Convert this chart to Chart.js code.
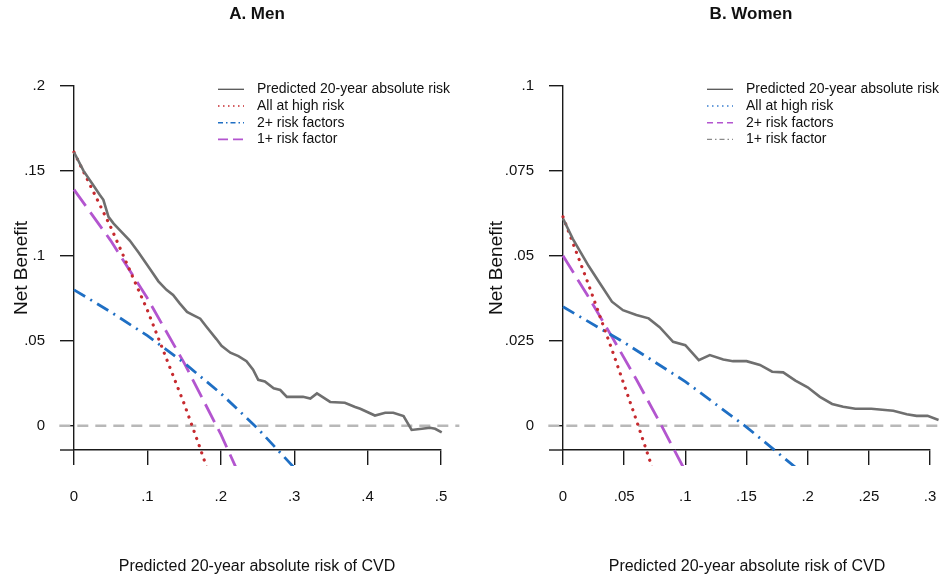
<!DOCTYPE html>
<html>
<head>
<meta charset="utf-8">
<script src="https://cdn.jsdelivr.net/npm/chart.js@4.4.1/dist/chart.umd.min.js"></script>
<style>
  html, body { margin: 0; padding: 0; background: #fff; }
  #wrap { position: relative; width: 939px; height: 579px; }
  .panel { position: absolute; top: 0; height: 579px; }
</style>
</head>
<body>
<div id="wrap">
  <div class="panel" style="left:0;width:470px"><canvas id="men" width="470" height="579"></canvas></div>
  <div class="panel" style="left:470px;width:469px"><canvas id="women" width="469" height="579"></canvas></div>
</div>
<script>
// Values
const seriesNames = ["Predicted 20-year absolute risk", "All at high risk", "2+ risk factors", "1+ risk factor"];
const xTitle = "Predicted 20-year absolute risk of CVD";
const yTitle = "Net Benefit";

// A. Men
const menPredX = [0, 0.013, 0.024, 0.035, 0.040, 0.047, 0.054, 0.065, 0.076, 0.088,
  0.104, 0.115, 0.126, 0.135, 0.144, 0.154, 0.163, 0.172, 0.181, 0.194,
  0.201, 0.213, 0.224, 0.235, 0.244, 0.251, 0.260, 0.272, 0.281, 0.290,
  0.312, 0.322, 0.331, 0.349, 0.369, 0.383, 0.390, 0.410, 0.424, 0.435,
  0.449, 0.460, 0.474, 0.485, 0.492, 0.501, 0.510, 0.519];
const menPredY = [0.161, 0.150, 0.143, 0.136, 0.133, 0.123, 0.119, 0.114, 0.109, 0.102,
  0.092, 0.085, 0.080, 0.077, 0.072, 0.067, 0.065, 0.063, 0.058, 0.051,
  0.047, 0.043, 0.041, 0.038, 0.033, 0.027, 0.026, 0.022, 0.021, 0.017,
  0.017, 0.016, 0.019, 0.014, 0.0135, 0.011, 0.010, 0.006, 0.0076, 0.0076,
  0.0057, -0.0025, -0.0018, -0.0012, -0.0018, -0.0039, -0.0009, -0.0006];
const menAllX = [0, 0.05, 0.10, 0.15, 0.17, 0.19];
const menAllY = [0.161, 0.117, 0.068, 0.013, -0.011, -0.036];
const menTwoX = [0, 0.05, 0.10, 0.15, 0.20, 0.25, 0.30, 0.31];
const menTwoY = [0.080, 0.067, 0.053, 0.037, 0.019, -0.0015, -0.0247, -0.030];
const menOneX = [0, 0.05, 0.10, 0.15, 0.20, 0.23];
const menOneY = [0.139, 0.109, 0.075, 0.037, -0.005, -0.0335];
const menZeroX = [-0.02, 0.525];
const menXTicks = [0, 0.1, 0.2, 0.3, 0.4, 0.5];
const menXTickLabels = ["0", ".1", ".2", ".3", ".4", ".5"];
const menYTicks = [0, 0.05, 0.1, 0.15, 0.2];
const menYTickLabels = ["0", ".05", ".1", ".15", ".2"];

// B. Women
const womenPredX = [0, 0.008, 0.021, 0.030, 0.040, 0.049, 0.060, 0.070, 0.079, 0.090,
  0.100, 0.111, 0.120, 0.131, 0.139, 0.150, 0.161, 0.171, 0.180, 0.190,
  0.200, 0.210, 0.220, 0.229, 0.239, 0.252, 0.270, 0.281, 0.289, 0.298, 0.307];
const womenPredY = [0.061, 0.055, 0.047, 0.042, 0.0365, 0.034, 0.0326, 0.0316, 0.029, 0.0247,
  0.0237, 0.0193, 0.0208, 0.0195, 0.019, 0.019, 0.0179, 0.0159, 0.0157, 0.0133,
  0.0113, 0.0085, 0.0064, 0.0056, 0.005, 0.005, 0.0044, 0.0034, 0.0029, 0.0029, 0.0017];
const womenAllX = [0, 0.02, 0.04, 0.06, 0.075];
const womenAllY = [0.0615, 0.0424, 0.0224, 0.0016, -0.0146];
const womenTwoX = [0, 0.05, 0.10, 0.15, 0.20];
const womenTwoY = [0.035, 0.0245, 0.013, -0.0004, -0.0152];
const womenOneX = [0, 0.02, 0.04, 0.06, 0.08, 0.10, 0.105];
const womenOneY = [0.050, 0.0384, 0.0262, 0.0136, 0.0004, -0.0134, -0.0169];
const womenZeroX = [-0.012, 0.32];
const womenXTicks = [0, 0.05, 0.1, 0.15, 0.2, 0.25, 0.3];
const womenXTickLabels = ["0", ".05", ".1", ".15", ".2", ".25", ".3"];
const womenYTicks = [0, 0.025, 0.05, 0.075, 0.1];
const womenYTickLabels = ["0", ".025", ".05", ".075", ".1"];

// Styles
const GRAY = "#6f6f6f", RED = "#c62a2f", BLUE = "#1f6fc4", PURPLE = "#b355cf", ZERO = "#b8b8b8", AXIS = "#1a1a1a";
const FONT = "'Liberation Sans', Arial, sans-serif";
Chart.defaults.font.family = FONT;

function pts(xs, ys) {
    return xs.map((x, i) => ({ x: x, y: ys[i] }));
}

const lineClip = { left: 16, top: 4, right: 20, bottom: 16 };

function buildDatasets(p) {
    return [
        { label: seriesNames[0], data: pts(p.predX, p.predY), borderColor: GRAY, borderWidth: 2.6 },
        { label: seriesNames[1], data: pts(p.allX, p.allY), borderColor: RED, borderWidth: 3.2, borderDash: [0.1, 7.5], borderCapStyle: "round" },
        { label: seriesNames[2], data: pts(p.twoX, p.twoY), borderColor: BLUE, borderWidth: 2.8, borderDash: [13, 6, 2, 6] },
        { label: seriesNames[3], data: pts(p.oneX, p.oneY), borderColor: PURPLE, borderWidth: 2.8, borderDash: [20, 8] },
        { label: "zero", data: pts(p.zeroX, [0, 0]), borderColor: ZERO, borderWidth: 2.5, borderDash: [11, 7] }
    ].map(d => Object.assign({ pointRadius: 0, fill: false, tension: 0, clip: lineClip }, d));
}

// titles, axis titles, the short axis stub left of the y axis, and the legend box
function panelText(p) {
    return {
        id: "panelText",
        afterDraw(chart) {
            const ctx = chart.ctx;
            const area = chart.chartArea;
            ctx.save();
            ctx.strokeStyle = AXIS;
            ctx.lineWidth = 1.4;
            ctx.beginPath();
            ctx.moveTo(area.left - 14, area.bottom);
            ctx.lineTo(area.left, area.bottom);
            ctx.stroke();

            ctx.fillStyle = "#111";
            ctx.textBaseline = "middle";
            ctx.textAlign = "center";
            ctx.font = "bold 17px 'Liberation Sans Narrow', " + FONT;
            ctx.fillText(p.title, p.titleX, 14);
            ctx.font = "16px " + FONT;
            ctx.fillText(xTitle, p.xTitleX, 567);
            ctx.save();
            ctx.translate(p.yTitleX, 268);
            ctx.rotate(-Math.PI / 2);
            ctx.font = "19px " + FONT;
            ctx.fillText(yTitle, 0, 0);
            ctx.restore();

            ctx.font = "14px " + FONT;
            ctx.textAlign = "left";
            p.legend.forEach((item, i) => {
                const y = 89.3 + i * 16.7;
                ctx.save();
                ctx.strokeStyle = item.color;
                ctx.lineWidth = item.width;
                ctx.setLineDash(item.dash);
                ctx.beginPath();
                ctx.moveTo(p.legendX, y);
                ctx.lineTo(p.legendX + 26, y);
                ctx.stroke();
                ctx.restore();
                ctx.fillText(seriesNames[i], p.legendX + 39, y);
            });
            ctx.restore();
        }
    };
}

function makeChart(id, p) {
    return new Chart(document.getElementById(id), {
        type: "line",
        data: { datasets: buildDatasets(p) },
        options: {
            responsive: false,
            animation: false,
            layout: { padding: p.padding },
            plugins: { legend: { display: false }, tooltip: { enabled: false } },
            scales: {
                x: {
                    type: "linear",
                    min: p.xMin,
                    max: p.xMax,
                    afterBuildTicks: s => { s.ticks = p.xTicks.map(v => ({ value: v })); },
                    afterFit: s => { s.height = 62; s.paddingLeft = 0; s.paddingRight = 0; },
                    ticks: { callback: (v, i) => p.xTickLabels[i], padding: 23, maxRotation: 0, autoSkip: false, font: { size: 15 }, color: "#111" },
                    grid: { drawOnChartArea: false, tickLength: 15, color: AXIS, lineWidth: 1.4 },
                    border: { color: AXIS, width: 1.4 }
                },
                y: {
                    type: "linear",
                    position: "left",
                    min: p.yMin,
                    max: p.yMax,
                    afterBuildTicks: s => { s.ticks = p.yTicks.map(v => ({ value: v })); },
                    afterFit: s => { s.width = 60; },
                    ticks: { callback: (v, i) => p.yTickLabels[i], padding: 15, autoSkip: false, font: { size: 15 }, color: "#111" },
                    grid: { drawOnChartArea: false, tickLength: 14, color: AXIS, lineWidth: 1.4 },
                    border: { color: AXIS, width: 1.4 }
                }
            }
        },
        plugins: [panelText(p)]
    });
}

makeChart("men", {
    predX: menPredX, predY: menPredY, allX: menAllX, allY: menAllY,
    twoX: menTwoX, twoY: menTwoY, oneX: menOneX, oneY: menOneY, zeroX: menZeroX,
    xTicks: menXTicks, xTickLabels: menXTickLabels, yTicks: menYTicks, yTickLabels: menYTickLabels,
    xMin: 0, xMax: 0.5, yMin: -0.0143, yMax: 0.2,
    padding: { left: 14, right: 29, top: 86, bottom: 67 },
    title: "A. Men", titleX: 257, xTitleX: 257, yTitleX: 22, legendX: 218,
    legend: [
        { color: "#555", width: 1.3, dash: [] },
        { color: RED, width: 1.5, dash: [1.5, 3.5] },
        { color: BLUE, width: 1.5, dash: [5, 3, 1.5, 3] },
        { color: PURPLE, width: 1.8, dash: [10, 5] }
    ]
});

makeChart("women", {
    predX: womenPredX, predY: womenPredY, allX: womenAllX, allY: womenAllY,
    twoX: womenTwoX, twoY: womenTwoY, oneX: womenOneX, oneY: womenOneY, zeroX: womenZeroX,
    xTicks: womenXTicks, xTickLabels: womenXTickLabels, yTicks: womenYTicks, yTickLabels: womenYTickLabels,
    xMin: 0, xMax: 0.3, yMin: -0.00715, yMax: 0.1,
    padding: { left: 33, right: 9, top: 86, bottom: 67 },
    title: "B. Women", titleX: 281, xTitleX: 277, yTitleX: 27, legendX: 237,
    legend: [
        { color: "#555", width: 1.3, dash: [] },
        { color: "#3a7fd0", width: 1.5, dash: [1.5, 3.5] },
        { color: PURPLE, width: 1.5, dash: [6, 4] },
        { color: "#8a8a8a", width: 1.3, dash: [5, 3, 1.5, 3] }
    ]
});
</script>
</body>
</html>
